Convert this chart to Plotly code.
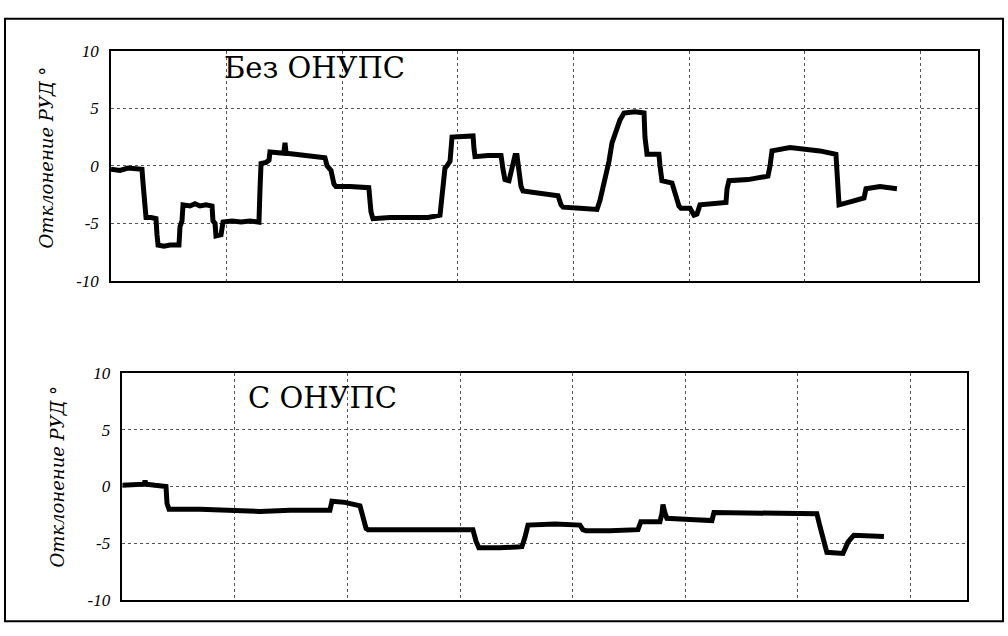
import plotly.graph_objects as go
from plotly.subplots import make_subplots

# Time axis in grid divisions (0 .. 7.5), throttle lever deviation in degrees.
top_t = [0.000, 0.078, 0.147, 0.208, 0.268, 0.277, 0.294, 0.303, 0.346, 0.389,
         0.398, 0.407, 0.458, 0.510, 0.588, 0.597, 0.614, 0.623, 0.683, 0.727,
         0.770, 0.822, 0.874, 0.882, 0.900, 0.908, 0.952, 0.960, 0.969, 1.047,
         1.125, 1.202, 1.280, 1.289, 1.298, 1.341, 1.367, 1.375, 1.445, 1.495,
         1.505, 1.515, 1.592, 1.678, 1.765, 1.851, 1.869, 1.903, 1.929, 1.946,
         2.067, 2.170, 2.230, 2.249, 2.266, 2.414, 2.587, 2.742, 2.846, 2.864,
         2.889, 2.907, 2.933, 2.950, 3.045, 3.132, 3.140, 3.149, 3.261, 3.374,
         3.391, 3.408, 3.443, 3.469, 3.495, 3.512, 3.529, 3.547, 3.564, 3.668,
         3.780, 3.867, 3.893, 3.910, 4.057, 4.204, 4.230, 4.256, 4.282, 4.308,
         4.334, 4.369, 4.403, 4.438, 4.533, 4.611, 4.619, 4.637, 4.740, 4.749,
         4.766, 4.853, 4.879, 4.913, 4.931, 5.009, 5.043, 5.069, 5.095, 5.208,
         5.320, 5.329, 5.346, 5.510, 5.683, 5.701, 5.718, 5.874, 6.003, 6.133,
         6.271, 6.280, 6.298, 6.410, 6.514, 6.531, 6.652, 6.799]
top_v = [-0.3, -0.4, -0.2, -0.3, -0.3, -1.5, -4.3, -4.5, -4.5, -4.6,
         -6.0, -6.9, -7.0, -6.9, -6.9, -5.3, -4.8, -3.4, -3.5, -3.3,
         -3.5, -3.4, -3.5, -4.8, -5.0, -6.1, -6.0, -5.5, -4.9, -4.8,
         -4.9, -4.8, -4.9, -2.0, 0.2, 0.3, 0.5, 1.2, 1.2, 1.1,
         2.0, 1.1, 1.0, 0.9, 0.8, 0.7, 0.0, -0.4, -1.6, -1.8,
         -1.8, -1.8, -1.9, -4.0, -4.6, -4.5, -4.5, -4.5, -4.3, -2.5,
         -0.2, 0.0, 0.4, 2.5, 2.6, 2.6, 1.5, 0.8, 0.9, 0.9,
         -0.3, -1.2, -1.3, -0.3, 0.9, 0.9, -0.5, -1.8, -2.2, -2.3,
         -2.5, -2.6, -3.4, -3.6, -3.7, -3.8, -3.0, -2.0, -1.0, 0.4,
         2.0, 3.2, 4.0, 4.6, 4.7, 4.6, 2.5, 1.0, 1.0, 0.0,
         -1.3, -1.5, -2.3, -3.5, -3.7, -3.7, -4.3, -4.2, -3.4, -3.3,
         -3.2, -2.0, -1.3, -1.2, -0.9, 0.0, 1.3, 1.6, 1.5, 1.3,
         1.0, -1.0, -3.4, -3.1, -2.8, -2.0, -1.8, -2.0]

bot_t = [0.000, 0.113, 0.192, 0.202, 0.212, 0.290, 0.388, 0.397, 0.415, 0.690,
         0.957, 1.223, 1.489, 1.667, 1.844, 1.862, 1.977, 2.111, 2.138, 2.165,
         2.182, 2.466, 2.733, 2.999, 3.114, 3.141, 3.167, 3.354, 3.549, 3.576,
         3.603, 3.843, 4.065, 4.091, 4.118, 4.331, 4.580, 4.606, 4.775, 4.793,
         4.802, 4.819, 4.837, 5.041, 5.237, 5.255, 5.663, 6.018, 6.169, 6.196,
         6.232, 6.258, 6.401, 6.418, 6.445, 6.471, 6.498, 6.765]
bot_v = [0.1, 0.2, 0.2, 0.5, 0.2, 0.1, 0.0, -1.5, -2.0, -2.0,
         -2.1, -2.2, -2.1, -2.1, -2.1, -1.3, -1.4, -1.7, -2.8, -3.7,
         -3.8, -3.8, -3.9, -3.8, -3.8, -4.8, -5.4, -5.4, -5.3, -4.5,
         -3.4, -3.3, -3.4, -3.8, -3.9, -3.9, -3.8, -3.1, -3.1, -2.4,
         -1.6, -2.3, -2.8, -2.9, -3.0, -2.3, -2.3, -2.3, -2.4, -3.5,
         -5.0, -5.8, -5.9, -5.4, -4.9, -4.6, -4.3, -4.4]

y_ticks = [10, 5, 0, -5, -10]
y_labels = ["10", "5", "0", "-5", "-10"]
panel_titles = ["Без ОНУПС", "С ОНУПС"]
y_title = "Отклонение РУД °"

W, H = 1008, 636
tick_family = "Liberation Serif"
cyr_family = "DejaVu Serif"

fig = make_subplots(rows=2, cols=1)
fig.add_trace(go.Scatter(x=top_t, y=top_v, mode="lines",
                         line=dict(color="black", width=5)), row=1, col=1)
fig.add_trace(go.Scatter(x=bot_t, y=bot_v, mode="lines",
                         line=dict(color="black", width=5)), row=2, col=1)

axis_common = dict(showline=True, linecolor="black", linewidth=1.5, mirror=True,
                   showgrid=True, gridcolor="#555555", griddash="dot", gridwidth=1,
                   zeroline=False, ticks="")

fig.update_xaxes(range=[0, 7.5], dtick=1, showticklabels=False, **axis_common)
fig.update_yaxes(range=[-10, 10], tickvals=y_ticks, ticktext=y_labels,
                 tickfont=dict(family=tick_family, size=17, color="black", style="italic"),
                 ticklabelstandoff=7, **axis_common)

fig.update_layout(
    xaxis=dict(domain=[111 / W, 978 / W]),
    yaxis=dict(domain=[1 - 280 / H, 1 - 43.3 / H]),
    xaxis2=dict(domain=[122.3 / W, 966.7 / W]),
    yaxis2=dict(domain=[1 - 609.3 / H, 1 - 375 / H]),
)

annotations = [
    dict(text=panel_titles[0], x=222 / W, y=1 - 61 / H, xanchor="left", yanchor="middle"),
    dict(text=panel_titles[1], x=246 / W, y=1 - 401 / H, xanchor="left", yanchor="middle"),
]
for a in annotations:
    a.update(xref="paper", yref="paper", showarrow=False,
             font=dict(family=cyr_family, size=29, color="black"))
for xc, yc in [(46, 153), (58, 482)]:
    annotations.append(dict(text=y_title, x=xc / W, y=1 - yc / H, xref="paper", yref="paper",
                            showarrow=False, textangle=-90, xanchor="center", yanchor="middle",
                            font=dict(family=cyr_family, size=18, color="black", style="italic")))

fig.update_layout(
    width=W, height=H,
    margin=dict(l=0, r=0, t=0, b=0),
    paper_bgcolor="white", plot_bgcolor="white",
    showlegend=False,
    annotations=annotations,
    shapes=[dict(type="rect", xref="paper", yref="paper",
                 x0=5 / W, x1=1003 / W, y0=1 - 631 / H, y1=1 - 10 / H,
                 line=dict(color="black", width=2))],
)

fig.write_html("out.html")
